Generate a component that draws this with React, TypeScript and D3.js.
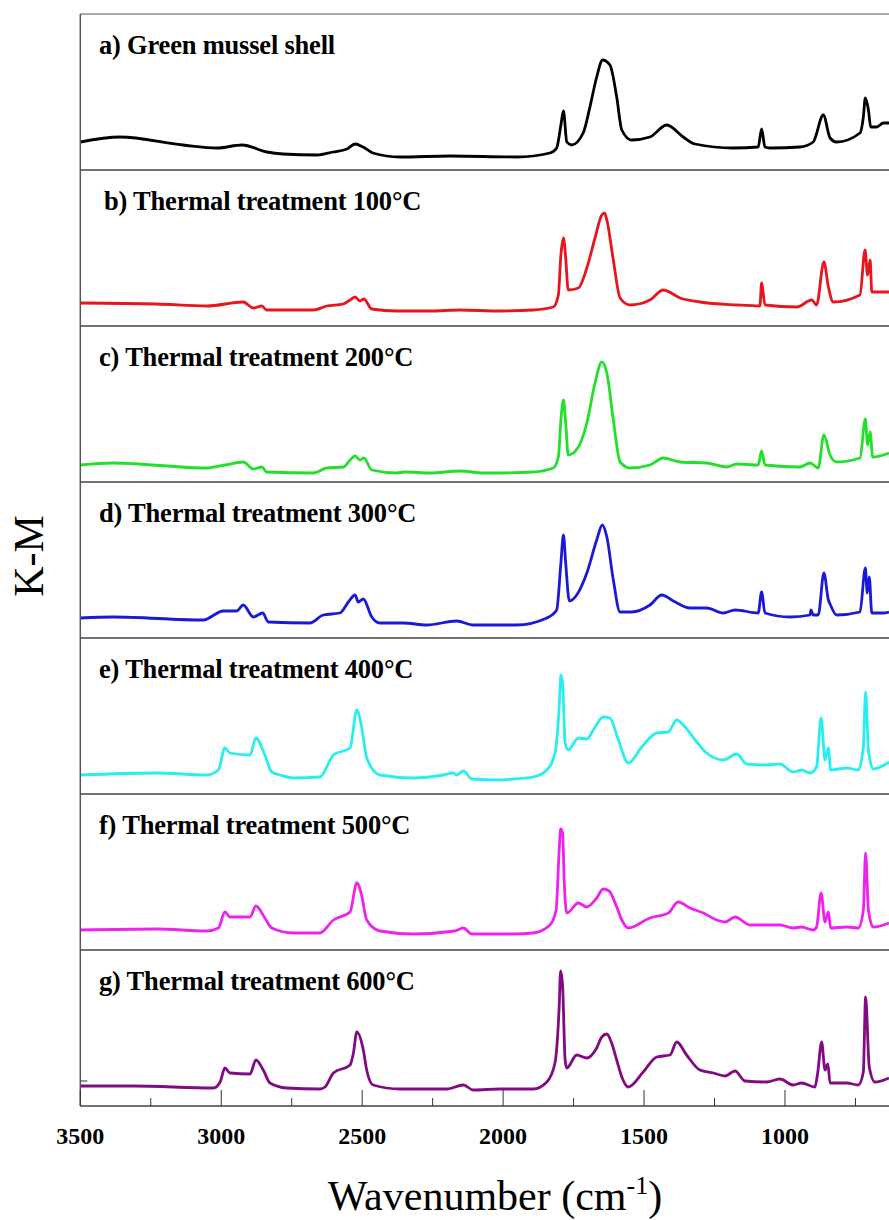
import React from 'react';
import * as d3 from 'd3';

type Pt = [number, number];

// K-M intensity (a.u.) vs wavenumber (cm-1)
const shell: Pt[] = [[3500,.28],[3360,.33],[3136,.25],[3015,.22],[2926,.25],[2838,.18],[2781,.16],[2660,.15],[2604,.18],[2554,.21],[2525,.26],[2497,.23],[2462,.17],[2366,.13],[2188,.14],[1952,.13],[1834,.17],[1810,.22],[1795,.45],[1786,.59],[1774,.28],[1757,.25],[1716,.37],[1692,.63],[1668,.93],[1647,1.10],[1621,1.05],[1597,.73],[1579,.40],[1544,.30],[1479,.33],[1420,.45],[1361,.33],[1319,.26],[1183,.22],[1095,.23],[1083,.41],[1071,.23],[1053,.22],[947,.23],[900,.28],[864,.55],[840,.32],[817,.28],[734,.37],[722,.53],[715,.72],[704,.60],[696,.43],[675,.43],[651,.47],[631,.47]];

const t100: Pt[] = [[3500,.23],[3230,.22],[3050,.20],[2922,.24],[2886,.18],[2856,.20],[2839,.16],[2673,.16],[2626,.20],[2567,.22],[2543,.26],[2525,.29],[2508,.25],[2494,.27],[2466,.17],[2378,.15],[2259,.15],[2153,.16],[2011,.15],[1893,.16],[1822,.19],[1804,.31],[1795,.71],[1786,.88],[1778,.68],[1769,.36],[1733,.38],[1703,.58],[1674,.88],[1650,1.11],[1640,1.13],[1632,1.06],[1609,.66],[1585,.28],[1550,.21],[1479,.26],[1432,.36],[1372,.28],[1302,.24],[1171,.21],[1089,.20],[1083,.43],[1071,.21],[958,.19],[905,.26],[888,.21],[862,.64],[846,.39],[829,.24],[734,.31],[716,.76],[707,.51],[698,.66],[692,.34],[631,.34]];

const t200: Pt[] = [[3500,.17],[3384,.19],[3052,.14],[2987,.17],[2922,.20],[2886,.13],[2856,.15],[2839,.10],[2673,.09],[2626,.14],[2567,.15],[2543,.22],[2525,.26],[2508,.22],[2494,.24],[2466,.12],[2378,.09],[2348,.10],[2259,.09],[2153,.11],[2070,.09],[2011,.09],[1893,.10],[1822,.14],[1804,.25],[1795,.62],[1786,.82],[1778,.59],[1769,.27],[1733,.35],[1703,.59],[1674,.99],[1650,1.20],[1632,1.09],[1609,.62],[1585,.20],[1550,.14],[1479,.17],[1432,.24],[1372,.20],[1278,.19],[1207,.15],[1171,.18],[1095,.17],[1083,.31],[1071,.17],[947,.15],[911,.19],[882,.14],[862,.47],[840,.27],[817,.20],[734,.24],[715,.63],[707,.37],[698,.50],[689,.25],[631,.29]];

const t300: Pt[] = [[3500,.20],[3384,.21],[3064,.18],[2993,.27],[2945,.27],[2922,.33],[2886,.21],[2853,.25],[2833,.16],[2685,.15],[2638,.23],[2579,.25],[2549,.36],[2525,.43],[2514,.36],[2496,.39],[2466,.21],[2437,.15],[2354,.15],[2271,.13],[2165,.17],[2106,.13],[2011,.13],[1952,.13],[1845,.20],[1810,.28],[1795,.75],[1786,1.03],[1778,.75],[1765,.37],[1739,.43],[1703,.65],[1668,.98],[1648,1.13],[1632,1.01],[1609,.58],[1585,.26],[1544,.26],[1479,.33],[1437,.43],[1396,.37],[1337,.30],[1278,.30],[1219,.25],[1177,.28],[1095,.25],[1083,.46],[1071,.25],[982,.21],[911,.23],[908,.28],[900,.23],[882,.23],[862,.65],[846,.38],[840,.34],[817,.23],[734,.26],[715,.70],[708,.45],[701,.61],[692,.25],[651,.25],[631,.26]];

const t400: Pt[] = [[3500,.19],[3229,.21],[3052,.19],[3010,.24],[2987,.46],[2969,.41],[2898,.39],[2877,.56],[2845,.39],[2821,.22],[2792,.19],[2744,.16],[2650,.17],[2602,.39],[2543,.46],[2519,.84],[2502,.67],[2484,.36],[2437,.19],[2319,.16],[2212,.19],[2177,.21],[2165,.19],[2141,.23],[2111,.15],[2011,.14],[1964,.15],[1893,.17],[1845,.24],[1816,.41],[1801,.87],[1795,1.19],[1789,1.11],[1780,.51],[1769,.44],[1733,.56],[1703,.55],[1680,.64],[1645,.77],[1621,.76],[1591,.54],[1556,.31],[1508,.47],[1455,.61],[1414,.62],[1384,.74],[1361,.69],[1313,.52],[1278,.41],[1219,.34],[1171,.40],[1136,.30],[1065,.29],[1018,.30],[971,.22],[941,.24],[911,.21],[888,.27],[872,.76],[858,.34],[846,.46],[838,.24],[781,.26],[740,.24],[722,.47],[714,1.02],[704,.44],[687,.25],[631,.32]];

const t500: Pt[] = [[3500,.20],[3229,.21],[3052,.19],[3010,.22],[2987,.38],[2969,.33],[2898,.33],[2877,.44],[2845,.32],[2821,.22],[2744,.17],[2650,.17],[2602,.30],[2543,.38],[2519,.67],[2502,.55],[2484,.30],[2437,.19],[2319,.16],[2171,.19],[2141,.22],[2111,.16],[2011,.16],[1964,.16],[1893,.17],[1834,.25],[1812,.40],[1801,1.00],[1796,1.21],[1789,1.17],[1783,.67],[1774,.37],[1733,.47],[1703,.43],[1668,.52],[1645,.61],[1624,.59],[1597,.43],[1579,.30],[1556,.22],[1479,.32],[1414,.37],[1379,.48],[1337,.42],[1290,.37],[1242,.30],[1213,.28],[1177,.33],[1124,.25],[1018,.25],[971,.22],[941,.23],[900,.20],[888,.23],[872,.57],[858,.28],[846,.38],[838,.22],[781,.23],[740,.22],[722,.40],[714,.97],[704,.40],[687,.23],[631,.27]];

const t600: Pt[] = [[3500,.20],[3312,.20],[3028,.18],[3004,.24],[2987,.38],[2969,.33],[2898,.32],[2877,.46],[2851,.36],[2827,.23],[2768,.18],[2650,.17],[2632,.19],[2602,.33],[2543,.41],[2531,.53],[2519,.74],[2496,.56],[2484,.36],[2461,.21],[2366,.17],[2200,.17],[2141,.21],[2106,.16],[2011,.17],[1893,.17],[1845,.24],[1816,.43],[1801,1.00],[1796,1.35],[1789,1.20],[1780,.46],[1774,.38],[1739,.51],[1703,.48],[1668,.58],[1650,.69],[1632,.72],[1615,.63],[1597,.46],[1579,.29],[1556,.19],[1503,.34],[1455,.49],[1408,.51],[1384,.64],[1349,.51],[1302,.36],[1254,.33],[1213,.30],[1177,.35],[1142,.25],[1065,.24],[1018,.27],[971,.21],[941,.23],[894,.19],[884,.33],[870,.64],[858,.36],[848,.42],[840,.23],[781,.23],[740,.21],[722,.34],[714,1.09],[701,.39],[681,.24],[631,.28]];

const SERIES = [shell, t100, t200, t300, t400, t500, t600];
const LABELS = [
  'a) Green mussel shell',
  'b) Thermal treatment 100°C',
  'c) Thermal treatment 200°C',
  'd) Thermal treatment 300°C',
  'e) Thermal treatment 400°C',
  'f) Thermal treatment 500°C',
  'g) Thermal treatment 600°C',
];
const COLORS = ['#000000', '#e8141e', '#22e02a', '#1a1ad6', '#28eeee', '#ee22ee', '#820a82'];
const X_TICKS = [3500, 3000, 2500, 2000, 1500, 1000];
const X_MINOR = [3250, 2750, 2250, 1750, 1250, 750];

const W = 889;
const H = 1220;
const left = 80.3;
const top = 14;
const panelH = 156;
const bottom = top + panelH * SERIES.length;
const serif = '"Liberation Serif", "Times New Roman", serif';

export default function App() {
  const x = d3.scaleLinear().domain([3500, 631]).range([left, W]);

  return (
    <div style={{ position: 'absolute', left: 0, top: 0 }}>
      <svg width={W} height={H} style={{ display: 'block', background: '#fff' }}>
        {/* top border */}
        <line x1={left} x2={W} y1={top} y2={top} stroke="#8a8a8a" strokeWidth={1.5} />

        {SERIES.map((data, i) => {
          const y0 = top + panelH * i;
          const y = d3.scaleLinear().domain([0, 1.56]).range([y0 + panelH, y0]);
          const line = d3
            .line<Pt>()
            .x(d => x(d[0]))
            .y(d => y(d[1]))
            .curve(d3.curveMonotoneX);
          return (
            <g key={i}>
              <path d={line(data) ?? ''} fill="none" stroke={COLORS[i]} strokeWidth={2.8} strokeLinejoin="round" />
              <text
                x={i === 1 ? 104 : 99}
                y={y0 + 40}
                fontFamily={serif}
                fontWeight="bold"
                fontSize={26.5}
                letterSpacing={-0.2}
                fill="#000"
              >
                {LABELS[i]}
              </text>
              {i < SERIES.length - 1 && (
                <line x1={left} x2={W} y1={y0 + panelH} y2={y0 + panelH} stroke="#444" strokeWidth={1.5} />
              )}
              {i === SERIES.length - 1 && (
                <line x1={left} x2={left + 7} y1={y(0.25)} y2={y(0.25)} stroke="#333" strokeWidth={1} />
              )}
            </g>
          );
        })}

        {/* left axis */}
        <line x1={left} x2={left} y1={top} y2={bottom} stroke="#555" strokeWidth={1.5} />
        {/* bottom axis */}
        <line x1={left} x2={W} y1={bottom} y2={bottom} stroke="#444" strokeWidth={1.5} />
        {X_TICKS.map(t => (
          <g key={t}>
            <line x1={x(t)} x2={x(t)} y1={bottom} y2={bottom - 16} stroke="#333" strokeWidth={1} />
            <text
              x={x(t)}
              y={bottom + 38}
              textAnchor="middle"
              fontFamily={serif}
              fontWeight="bold"
              fontSize={24}
            >
              {t}
            </text>
          </g>
        ))}
        {X_MINOR.map(t => (
          <line key={t} x1={x(t)} x2={x(t)} y1={bottom} y2={bottom - 8} stroke="#333" strokeWidth={1} />
        ))}

        <text x={495} y={1210} textAnchor="middle" fontFamily={serif} fontSize={42}>
          Wavenumber (cm<tspan dy={-16} fontSize={26}>-1</tspan><tspan dy={16}>)</tspan>
        </text>
        <text
          transform={`translate(43, 556) rotate(-90)`}
          textAnchor="middle"
          fontFamily={serif}
          fontSize={42}
        >
          K-M
        </text>
      </svg>
    </div>
  );
}
